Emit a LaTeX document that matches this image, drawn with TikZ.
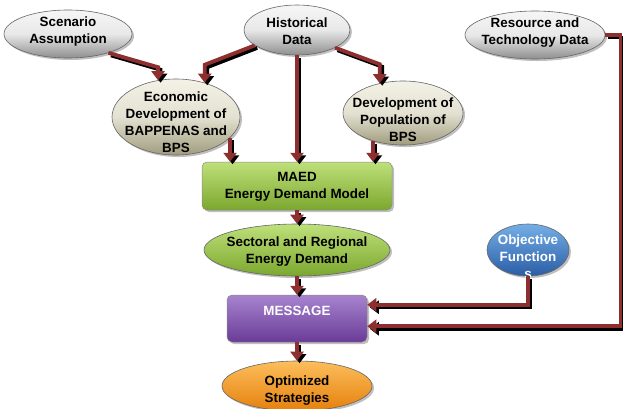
\documentclass[tikz,border=0pt]{standalone}
\usepackage{fontspec}
\setmainfont{Liberation Sans}
\usetikzlibrary{shapes.geometric,arrows.meta,shadows,calc}
\definecolor{arrred}{HTML}{8E2F2F}
\definecolor{grtop}{HTML}{F6F6F6}
\definecolor{grbot}{HTML}{8E8E8E}
\definecolor{bgtop}{HTML}{F4F2E6}
\definecolor{bgbot}{HTML}{A09C7E}
\definecolor{gntop}{HTML}{BEE07A}
\definecolor{gnbot}{HTML}{7BA72E}
\definecolor{pptop}{HTML}{A784CF}
\definecolor{ppbot}{HTML}{6A3B97}
\definecolor{bltop}{HTML}{74AEE6}
\definecolor{blbot}{HTML}{2B5DA6}
\definecolor{ortop}{HTML}{FCBE5C}
\definecolor{orbot}{HTML}{E5800C}
\tikzset{
  base/.style={inner sep=0pt, drop shadow={shadow xshift=2pt,shadow yshift=-2pt,opacity=0.5}},
  ell/.style={base, ellipse, draw=black!60, line width=0.6pt},
  grayell/.style={ell, top color=grtop, bottom color=grbot, middle color=gray!18},
  beigeell/.style={ell, top color=bgtop, bottom color=bgbot, middle color=bgtop!80!bgbot},
  greenell/.style={ell, top color=gntop, bottom color=gnbot},
  blueell/.style={ell, top color=bltop, bottom color=blbot},
  orangeell/.style={ell, top color=ortop, bottom color=orbot},
  greenbox/.style={base, rectangle, rounded corners=5pt, draw=black!45, line width=0.5pt, top color=gntop, bottom color=gnbot},
  purplebox/.style={base, rectangle, rounded corners=5pt, draw=black!45, line width=0.5pt, top color=pptop, bottom color=ppbot},
  txt/.style={align=center, font=\fontsize{13.4}{17}\selectfont\bfseries, inner sep=0pt},
  wtxt/.style={txt, text=white},
  arr/.style={draw=arrred, line width=3.8pt, -{Triangle[length=9pt,width=13pt]}},
  shd/.style={draw=black, line width=3.8pt, -{Triangle[length=9pt,width=13pt]}, transform canvas={shift={(2.5pt,-2.5pt)}}},
}
\newcommand\conn[1]{\draw[shd] #1; \draw[arr] #1;}
\begin{document}
\begin{tikzpicture}[x=1pt,y=-1pt]
\useasboundingbox[fill=white] (0,0) rectangle (623,408);
% nodes
\node[grayell, minimum width=128pt, minimum height=48pt] (scen) at (68,34) {};
\node[txt] (tscen) at (68,32) {Scenario\\Assumption};
\node[grayell, minimum width=106pt, minimum height=50pt] (hist) at (297,30) {};
\node[txt] (thist) at (297,31) {Historical\\Data};
\node[grayell, minimum width=140pt, minimum height=48pt] (res) at (535,35) {};
\node[txt] (tres) at (535,32.5) {Resource and\\Technology Data};
\node[beigeell, minimum width=128pt, minimum height=76pt] (econ) at (176,117) {};
\node[txt] (tecon) at (176,122.5) {Economic\\Development of\\BAPPENAS and\\BPS};
\node[beigeell, minimum width=120pt, minimum height=64pt] (pop) at (403,113) {};
\node[txt] (tpop) at (403,120) {Development of\\Population of\\BPS};
\node[greenbox, minimum width=190pt, minimum height=48pt] (maed) at (297,186) {};
\node[txt] (tmaed) at (297,186.5) {MAED\\Energy Demand Model};
\node[greenell, minimum width=186pt, minimum height=52pt] (sect) at (297,250) {};
\node[txt] (tsect) at (297,251.5) {Sectoral and Regional\\Energy Demand};
\node[blueell, minimum width=82pt, minimum height=52pt] (obj) at (528,250) {};
\node[wtxt] (tobj) at (528,257) {Objective\\Function\\s};
\node[purplebox, minimum width=140pt, minimum height=47pt] (msg) at (297,318.5) {};
\node[wtxt] (tmsg) at (297,311) {MESSAGE};
\node[orangeell, minimum width=150pt, minimum height=50pt] (opt) at (297,386) {};
\node[txt] (topt) at (297,391) {Optimized\\Strategies};
\coordinate (rt) at (620.5,0);
\coordinate (mtop) at ([yshift=-10pt]msg.north east);
\coordinate (mbot) at ([yshift=16pt]msg.south east);
% connectors
\conn{(scen.-25) -- ($(econ.116)+(0,-13)$) -- (econ.116)}
\conn{(hist.200) -- ($(econ.50)+(0,-18)$) -- (econ.50)}
\conn{(hist.south) -- (maed.north)}
\conn{(hist.-25) -- ($(pop.128)+(0,-19)$) -- (pop.128)}
\conn{(econ.-21) -- (econ.-21 |- maed.north)}
\conn{(pop.223) -- (pop.223 |- maed.north)}
\conn{(maed.south) -- (sect.north)}
\conn{(sect.south) -- (msg.north)}
\conn{(obj.south) |- (mtop)}
\conn{(res.east) -- (res.east -| rt) -- (rt |- mbot) -- (mbot)}
\conn{(msg.south) -- (opt.north)}
\end{tikzpicture}
\end{document}
